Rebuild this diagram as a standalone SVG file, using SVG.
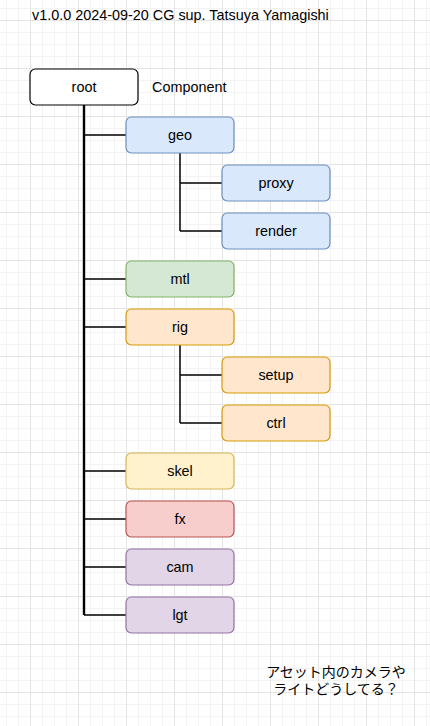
<svg xmlns="http://www.w3.org/2000/svg" width="430" height="726" viewBox="0 0 430 726">
<defs>
<pattern id="grid" patternUnits="userSpaceOnUse" x="30" y="20" width="48" height="48">
<rect x="12" y="0" width="1" height="48" fill="#f3f3f3"/>
<rect x="24" y="0" width="1" height="48" fill="#f3f3f3"/>
<rect x="36" y="0" width="1" height="48" fill="#f3f3f3"/>
<rect x="0" y="12" width="48" height="1" fill="#f3f3f3"/>
<rect x="0" y="24" width="48" height="1" fill="#f3f3f3"/>
<rect x="0" y="36" width="48" height="1" fill="#f3f3f3"/>
<rect x="0" y="0" width="1" height="48" fill="#e4e4e4"/>
<rect x="0" y="0" width="48" height="1" fill="#e4e4e4"/>
</pattern>
<style>
.box{stroke-width:1.2}
.lbl{font-family:"Liberation Sans",Arial,sans-serif;font-size:14.4px;fill:#000;text-anchor:middle}
.plain{font-family:"Liberation Sans",Arial,sans-serif;font-size:14.4px;fill:#000}
.jp{font-family:"Liberation Sans","Noto Sans CJK JP",sans-serif;font-size:14px;fill:#000;text-anchor:middle}
.trunk{stroke:#000;stroke-width:2.4;fill:none}
.br{stroke:#000;stroke-width:1.5;fill:none}
.root{fill:#ffffff;stroke:#000000}
.blue{fill:#dae8fc;stroke:#6c8ebf}
.green{fill:#d5e8d4;stroke:#82b366}
.orange{fill:#ffe6cc;stroke:#d79b00}
.yellow{fill:#fff2cc;stroke:#d6b656}
.red{fill:#f8cecc;stroke:#b85450}
.purple{fill:#e1d5e7;stroke:#9673a6}
</style>
</defs>
<rect width="430" height="726" fill="#ffffff"/>
<rect width="430" height="726" fill="url(#grid)"/>

<text class="plain" x="32" y="20">v1.0.0 2024-09-20 CG sup. Tatsuya Yamagishi</text>
<text class="plain" x="152" y="92">Component</text>

<g id="connectors">
<path class="trunk" d="M84 105 V615"/>
<path class="br" d="M84 135 H126 M84 279 H126 M84 327 H126 M84 471 H126 M84 519 H126 M84 567 H126 M84 615 H126"/>
<path class="br" d="M180 153 V231 M180 183 H222 M180 231 H222"/>
<path class="br" d="M180 345 V423 M180 375 H222 M180 423 H222"/>
</g>

<g id="root"><rect class="box root" x="30" y="69" width="108" height="36" rx="5.4"/><text class="lbl" x="84" y="92">root</text></g>
<g id="geo"><rect class="box blue" x="126" y="117" width="108" height="36" rx="5.4"/><text class="lbl" x="180" y="140">geo</text></g>
<g id="proxy"><rect class="box blue" x="222" y="165" width="108" height="36" rx="5.4"/><text class="lbl" x="276" y="188">proxy</text></g>
<g id="render"><rect class="box blue" x="222" y="213" width="108" height="36" rx="5.4"/><text class="lbl" x="276" y="236">render</text></g>
<g id="mtl"><rect class="box green" x="126" y="261" width="108" height="36" rx="5.4"/><text class="lbl" x="180" y="284">mtl</text></g>
<g id="rig"><rect class="box orange" x="126" y="309" width="108" height="36" rx="5.4"/><text class="lbl" x="180" y="332">rig</text></g>
<g id="setup"><rect class="box orange" x="222" y="357" width="108" height="36" rx="5.4"/><text class="lbl" x="276" y="380">setup</text></g>
<g id="ctrl"><rect class="box orange" x="222" y="405" width="108" height="36" rx="5.4"/><text class="lbl" x="276" y="428">ctrl</text></g>
<g id="skel"><rect class="box yellow" x="126" y="453" width="108" height="36" rx="5.4"/><text class="lbl" x="180" y="476">skel</text></g>
<g id="fx"><rect class="box red" x="126" y="501" width="108" height="36" rx="5.4"/><text class="lbl" x="180" y="524">fx</text></g>
<g id="cam"><rect class="box purple" x="126" y="549" width="108" height="36" rx="5.4"/><text class="lbl" x="180" y="572">cam</text></g>
<g id="lgt"><rect class="box purple" x="126" y="597" width="108" height="36" rx="5.4"/><text class="lbl" x="180" y="620">lgt</text></g>

<text class="jp" x="336" y="677">アセット内のカメラや</text>
<text class="jp" x="336" y="694">ライトどうしてる？</text>
</svg>
